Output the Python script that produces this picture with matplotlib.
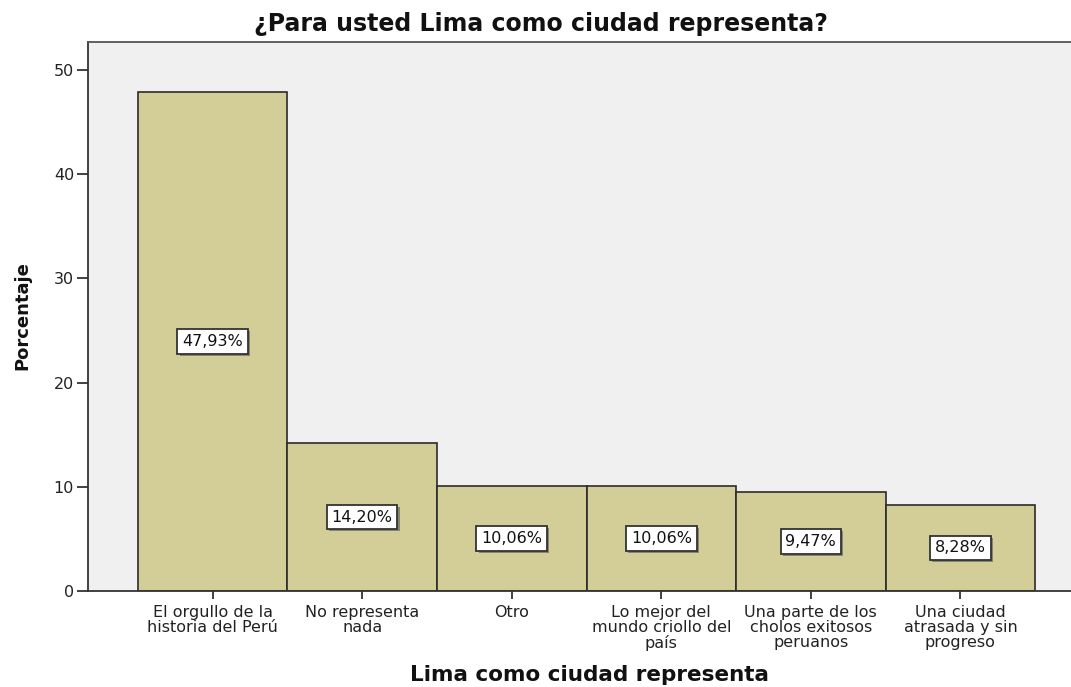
import matplotlib
matplotlib.use("Agg")
import matplotlib.pyplot as plt
import matplotlib.patheffects as pe

categories = ["El orgullo de la\nhistoria del Perú", "No representa\nnada", "Otro",
              "Lo mejor del\nmundo criollo del\npaís", "Una parte de los\ncholos exitosos\nperuanos",
              "Una ciudad\natrasada y sin\nprogreso"]
values = [47.93, 14.20, 10.06, 10.06, 9.47, 8.28]
labels = ["47,93%", "14,20%", "10,06%", "10,06%", "9,47%", "8,28%"]
yticks = [0, 10, 20, 30, 40, 50]

fig = plt.figure(figsize=(10.71, 6.87), dpi=100)
ax = fig.add_axes([88/1071, 1-591/687, (1085-88)/1071, (591-42)/687])
ax.set_facecolor("#F0F0F0")
x = list(range(len(values)))
ax.bar(x, values, width=1.0, color="#D3CE98", edgecolor="#2b2b2b", linewidth=1.2, zorder=2)
for xi, v, lab in zip(x, values, labels):
    t = ax.text(xi, v/2, lab, ha="center", va="center", fontsize=11.5, family="DejaVu Sans",
                color="#111111", zorder=4,
                bbox=dict(boxstyle="square,pad=0.3", facecolor="white", edgecolor="#333333", linewidth=1.3))
    t.get_bbox_patch().set_path_effects([
        pe.withSimplePatchShadow(offset=(1.5, -1.5), shadow_rgbFace="#555555", alpha=0.6)])
ax.set_xlim(-0.833, 5.833)
ax.set_ylim(0, 52.7)
ax.set_yticks(yticks)
ax.set_yticklabels([str(t) for t in yticks], family="DejaVu Sans", fontsize=11.5, color="#222222")
ax.set_xticks(x)
ax.set_xticklabels(categories, family="DejaVu Sans", fontsize=11.5, color="#222222", linespacing=1.0)
ax.tick_params(axis="y", direction="out", length=8, width=1.3, color="#333333", pad=2)
ax.tick_params(axis="x", direction="out", length=6, width=1.3, color="#333333", pad=4)
for s in ax.spines.values():
    s.set_color("#555555")
    s.set_linewidth(1.3)
ax.spines["left"].set_color("#333333")
ax.spines["bottom"].set_color("#333333")
fig.text(541/1071, 1-24/687, "¿Para usted Lima como ciudad representa?", ha="center", va="center",
         fontsize=17, fontweight="bold", family="DejaVu Sans", color="#111111")
fig.text(590/1071, 1-675/687, "Lima como ciudad representa", ha="center", va="center",
         fontsize=15.5, fontweight="bold", family="DejaVu Sans", color="#111111")
fig.text(22/1071, 1-316/687, "Porcentaje", ha="center", va="center", rotation=90,
         fontsize=13, fontweight="bold", family="DejaVu Sans", color="#111111")
fig.savefig("out.png", dpi=100)
